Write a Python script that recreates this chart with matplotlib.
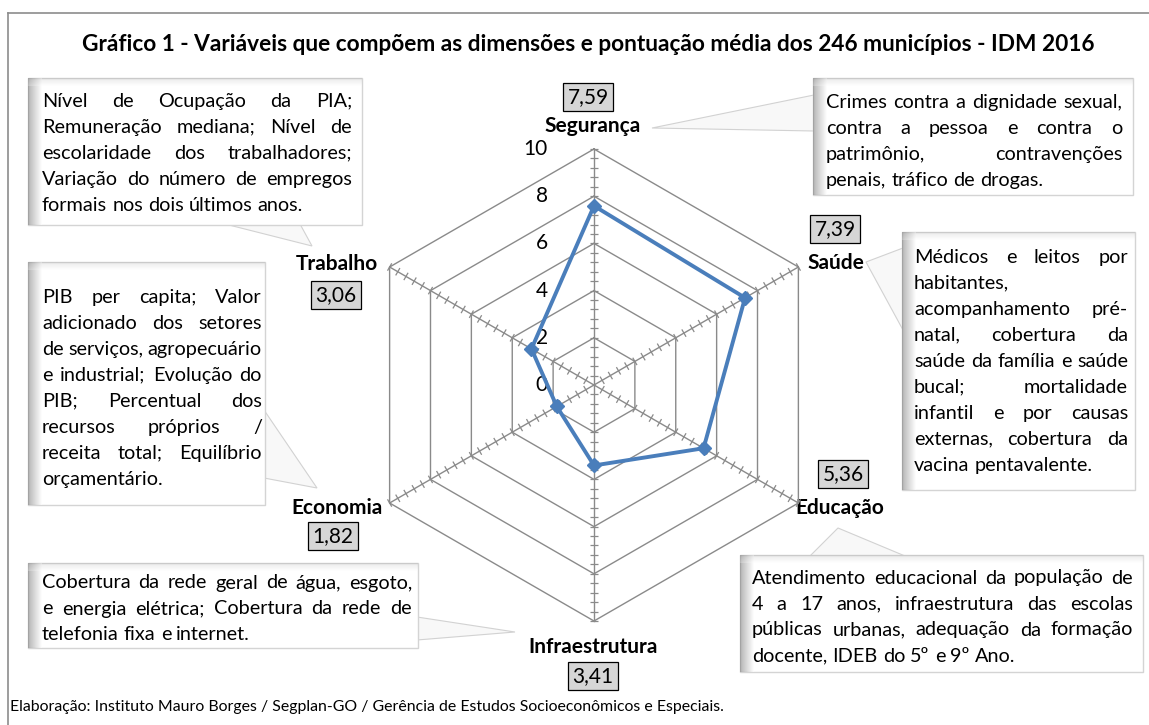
import matplotlib
matplotlib.use('Agg')
import matplotlib.pyplot as plt
import numpy as np
from matplotlib.patches import Polygon
from matplotlib.collections import LineCollection

plt.rcParams['font.family'] = ['Lato', 'DejaVu Sans']

# dados
dimensoes = ['Segurança', 'Saúde', 'Educação', 'Infraestrutura', 'Economia', 'Trabalho']
pontuacao = [7.59, 7.39, 5.36, 3.41, 1.82, 3.06]
niveis = [0, 2, 4, 6, 8, 10]

titulo = 'Gráfico 1 - Variáveis que compõem as dimensões e pontuação média dos 246 municípios - IDM 2016'
fonte = ('Elaboração: Instituto Mauro Borges / Segplan-GO / Gerência de Estudos '
         'Socioeconômicos e Especiais.')

txt_trabalho = ['Nível de Ocupação da PIA;', 'Remuneração mediana; Nível de',
                'escolaridade dos trabalhadores;', 'Variação do número de empregos',
                'formais nos dois últimos anos.']
txt_seguranca = ['Crimes contra a dignidade sexual,', 'contra a pessoa e contra o',
                 'patrimônio, contravenções', 'penais, tráfico de drogas.']
txt_saude = ['Médicos e leitos por', 'habitantes,', 'acompanhamento pré-',
             'natal, cobertura da', 'saúde da família e saúde', 'bucal; mortalidade',
             'infantil e por causas', 'externas, cobertura da', 'vacina pentavalente.']
txt_economia = ['PIB per capita; Valor', 'adicionado dos setores',
                'de serviços, agropecuário', 'e industrial; Evolução do',
                'PIB; Percentual dos', 'recursos próprios /',
                'receita total; Equilíbrio', 'orçamentário.']
txt_infra = ['Cobertura da rede geral de água, esgoto,', 'e energia elétrica; Cobertura da rede de',
             'telefonia fixa e internet.']
txt_educacao = ['Atendimento educacional da população de', '4 a 17 anos, infraestrutura das escolas',
                'públicas urbanas, adequação da formação', 'docente, IDEB do 5º e 9º Ano.']

W, H = 1149, 725
fig = plt.figure(figsize=(W / 100, H / 100), dpi=100)

# camada de anotacoes em pixels
bg = fig.add_axes([0, 0, 1, 1])
bg.set_xlim(0, W)
bg.set_ylim(H, 0)
bg.axis('off')

# moldura
bg.plot([8, W], [13, 13], color='#8c8c8c', lw=1.2)
bg.plot([8, 8], [13, H], color='#8c8c8c', lw=1.2)

bg.text(588, 44, titulo, ha='center', va='center', fontsize=16.3, fontweight='bold')
bg.text(10, 707, fonte, ha='left', va='center', fontsize=11.4)

# grafico radar
cx, cy, R = 594, 385, 236
L = 12
half = R * L / 10
ax = fig.add_axes([(cx - half) / W, (H - cy - half) / H, 2 * half / W, 2 * half / H])
ax.set_xlim(-L, L)
ax.set_ylim(-L, L)
ax.axis('off')

ang = np.deg2rad(90 - 60 * np.arange(len(dimensoes)))
ux, uy = np.cos(ang), np.sin(ang)
cinza = '#8a8a8a'

for v in niveis[1:]:
    ax.plot(np.r_[v * ux, v * ux[0]], np.r_[v * uy, v * uy[0]], color=cinza, lw=1)
segs = []
for k in range(len(dimensoes)):
    ax.plot([0, niveis[-1] * ux[k]], [0, niveis[-1] * uy[k]], color=cinza, lw=1)
    px, py = -uy[k], ux[k]
    for t in np.arange(0.4, niveis[-1] + 0.01, 0.4):
        h = 0.18
        segs.append([(t * ux[k] - h * px, t * uy[k] - h * py),
                     (t * ux[k] + h * px, t * uy[k] + h * py)])
ax.add_collection(LineCollection(segs, colors=cinza, linewidths=0.9))

for v in niveis:
    ax.text(-1.95, v, str(v), ha='right', va='center', fontsize=15)

vals = np.array(pontuacao)
ax.plot(np.r_[vals * ux, vals[0] * ux[0]], np.r_[vals * uy, vals[0] * uy[0]],
        color='#4a7ebb', lw=2.8, marker='D', ms=7, markevery=list(range(len(vals))),
        zorder=5)

# rotulos das dimensoes e caixas de valor
pos_nome = [(593, 126), (836, 263), (840, 508), (593, 647), (337, 508), (337, 264)]
pos_valor = [(588, 97), (835, 229), (843, 474), (593, 676), (333, 536), (336, 295)]
for nome, v, (nx, ny), (vx, vy) in zip(dimensoes, pontuacao, pos_nome, pos_valor):
    bg.text(nx, ny, nome, ha='center', va='center', fontsize=15, fontweight='bold')
    bg.text(vx, vy, f'{v:.2f}'.replace('.', ','), ha='center', va='center', fontsize=15,
            bbox=dict(boxstyle='square,pad=0.2', fc='#d6d6d6', ec='black', lw=0.9))

renderer = fig.canvas.get_renderer()


def caixa(x0, y0, x1, y1, cauda):
    # caixa de texto com cauda (balao)
    tail = Polygon(cauda, closed=True, fc='#f8f8f8', ec='#d2d2d2', lw=0.8, zorder=1)
    bg.add_patch(tail)
    rect = Polygon([(x0, y0), (x1, y0), (x1, y1), (x0, y1)], closed=True,
                   fc='white', ec='#d4d4d4', lw=1, zorder=2)
    bg.add_patch(rect)
    grad = np.linspace(0, 1, 40).reshape(1, -1)
    bg.imshow(grad, extent=[x0, x0 + 14, y1, y0], cmap='gray', vmin=-0.9, vmax=1,
              aspect='auto', zorder=3, alpha=0.55)
    grad2 = np.linspace(0, 1, 40).reshape(-1, 1)
    bg.imshow(grad2, extent=[x0, x1, y0 + 8, y0], cmap='gray', vmin=-2, vmax=1,
              aspect='auto', zorder=3, alpha=0.25)
    bg.set_xlim(0, W)
    bg.set_ylim(H, 0)


def paragrafo(linhas, x0, x1, y0, dy, fs=14.3):
    esp = bg.text(0, 0, 'a a', fontsize=fs)
    aa = bg.text(0, 0, 'aa', fontsize=fs)
    sp = esp.get_window_extent(renderer).width - aa.get_window_extent(renderer).width
    esp.remove()
    aa.remove()
    for i, linha in enumerate(linhas):
        palavras = linha.split()
        y = y0 + i * dy
        ts = [bg.text(0, y, p, fontsize=fs, ha='left', va='center', zorder=4) for p in palavras]
        ws = [t.get_window_extent(renderer).width for t in ts]
        ultima = i == len(linhas) - 1 or len(palavras) == 1
        gap = sp if ultima else (x1 - x0 - sum(ws)) / (len(palavras) - 1)
        x = x0
        for t, w in zip(ts, ws):
            t.set_x(x)
            x += w + gap


caixa(28, 78, 362, 225, [(225, 224), (312, 246), (300, 224)])
paragrafo(txt_trabalho, 42, 352, 101, 26)

caixa(813, 78, 1133, 195, [(814, 95), (652, 128), (814, 131)])
paragrafo(txt_seguranca, 826, 1122, 102, 26)

caixa(902, 232, 1135, 490, [(903, 248), (866, 262), (903, 330)])
paragrafo(txt_saude, 914, 1128, 257, 26)

caixa(28, 262, 265, 505, [(264, 410), (317, 488), (264, 478)])
paragrafo(txt_economia, 42, 262, 297, 26)

caixa(28, 563, 418, 648, [(417, 617), (515, 632), (417, 640)])
paragrafo(txt_infra, 42, 412, 583, 26)

caixa(740, 555, 1143, 672, [(810, 556), (838, 528), (905, 556)])
paragrafo(txt_educacao, 752, 1133, 578, 26)

fig.savefig('out.png', dpi=100)
